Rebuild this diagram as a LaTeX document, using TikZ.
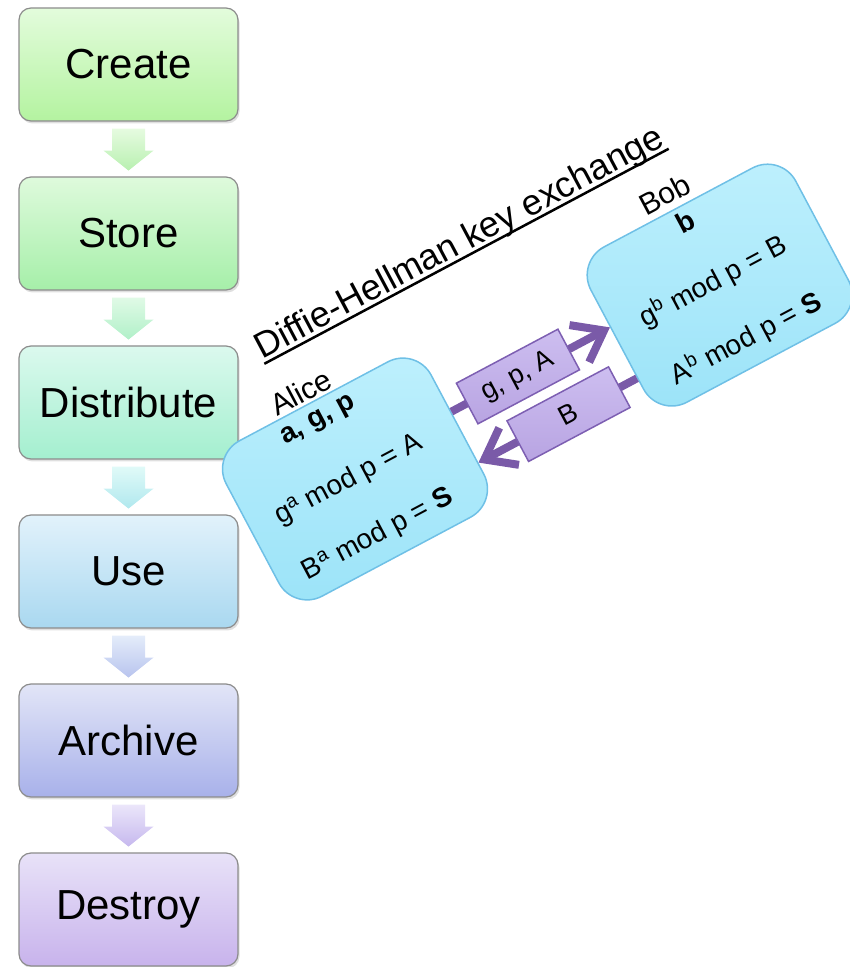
\documentclass[tikz,border=0pt]{standalone}
\usepackage{fontspec}
\setmainfont{Liberation Sans}
\usetikzlibrary{calc,arrows.meta,shadows}
\definecolor{dhtop}{HTML}{BEF0FD}
\definecolor{dhbot}{HTML}{9BE3F8}
\definecolor{dhline}{HTML}{6FC0E6}
\definecolor{msgtop}{HTML}{CDBEF0}
\definecolor{msgbot}{HTML}{B8A4E2}
\definecolor{msgline}{HTML}{7D5FB2}
\definecolor{arrcol}{HTML}{7A5AA8}
\tikzset{
  stage/.style={draw=black!45, line width=1.2pt, rounded corners=12pt,
    minimum width=219pt, minimum height=113pt,
    font=\fontsize{42}{48}\selectfont,
    drop shadow={opacity=0.25, shadow xshift=1.5pt, shadow yshift=-2.5pt}},
  dhbox/.style={draw=dhline, line width=1.5pt, rounded corners=32pt,
    top color=dhtop, bottom color=dhbot,
    minimum width=232pt, minimum height=176pt, transform shape},
  dhtext/.style={font=\fontsize{28}{32}\selectfont, inner sep=0pt, transform shape},
  dhname/.style={font=\fontsize{30}{34}\selectfont, inner sep=0pt, transform shape},
  msgbox/.style={draw=msgline, line width=1.5pt, top color=msgtop, bottom color=msgbot,
    minimum width=115pt, minimum height=46pt, inner sep=0pt,
    font=\fontsize{27}{30}\selectfont, transform shape},
  msgarrow/.style={draw=arrcol, line width=8pt,
    -{Straight Barb[length=28pt,width=42pt]}},
  titletext/.style={font=\fontsize{36}{40}\selectfont, anchor=base, inner sep=0pt,
    text depth=4.5pt, transform shape}
}
\newcommand\stagearrow[3]{%
  \shade[top color=#2, bottom color=#3]
    ($(#1.south)+(-16.5,-7)$) -- ($(#1.south)+(16.5,-7)$) --
    ($(#1.south)+(16.5,-29)$) -- ($(#1.south)+(25,-29)$) --
    ($(#1.south)+(0,-49)$) -- ($(#1.south)+(-25,-29)$) --
    ($(#1.south)+(-16.5,-29)$) -- cycle;}
\begin{document}
\begin{tikzpicture}[x=1pt,y=1pt]
\useasboundingbox (0,0) rectangle (850,967);

% lifecycle stages
\node[stage, top color={rgb,255:red,227;green,252;blue,220}, bottom color={rgb,255:red,180;green,243;blue,160}] (create) at (128.5,902.5) {Create};
\node[stage, top color={rgb,255:red,222;green,250;blue,220}, bottom color={rgb,255:red,166;green,239;blue,169}] (store) at (128.5,733.5) {Store};
\node[stage, top color={rgb,255:red,219;green,249;blue,238}, bottom color={rgb,255:red,164;green,239;blue,207}] (distribute) at (128.5,564.5) {Distribute};
\node[stage, top color={rgb,255:red,226;green,242;blue,251}, bottom color={rgb,255:red,169;green,216;blue,240}] (use) at (128.5,395.5) {Use};
\node[stage, top color={rgb,255:red,226;green,229;blue,247}, bottom color={rgb,255:red,168;green,177;blue,234}] (archive) at (128.5,226.5) {Archive};
\node[stage, top color={rgb,255:red,232;green,226;blue,248}, bottom color={rgb,255:red,200;green,179;blue,236}] (destroy) at (128.5,57.5) {Destroy};

\stagearrow{create}{{rgb,255:red,230;green,251;blue,224}}{{rgb,255:red,184;green,240;blue,176}}
\stagearrow{store}{{rgb,255:red,224;green,250;blue,230}}{{rgb,255:red,176;green,240;blue,200}}
\stagearrow{distribute}{{rgb,255:red,224;green,250;blue,248}}{{rgb,255:red,176;green,232;blue,238}}
\stagearrow{use}{{rgb,255:red,228;green,236;blue,250}}{{rgb,255:red,184;green,196;blue,238}}
\stagearrow{archive}{{rgb,255:red,235;green,230;blue,250}}{{rgb,255:red,198;green,184;blue,238}}

% Diffie-Hellman key exchange
\begin{scope}[shift={(355,488)}, rotate=28]
  \node[titletext] (title) at (203,149) {Diffie-Hellman key exchange};
  \draw[line width=2.5pt] (title.south west) -- (title.south east);

  \node[dhbox] (alice) at (0,0) {};
  \node[dhbox] (bob) at (413,0) {};

  \node[dhname] (alicename) at (-7,102) {Alice};
  \node[dhtext] (alice1) at (-5,68) {\textbf{a, g, p}};
  \node[dhtext] (alice2) at (-6,2) {g\textsuperscript{a} mod p = A};
  \node[dhtext] (alice3) at (-6,-60) {B\textsuperscript{a} mod p = \textbf{S}};

  \node[dhname] (bobname) at (407,106) {Bob};
  \node[dhtext] (bob1) at (412,72) {\textbf{b}};
  \node[dhtext] (bob2) at (409,6) {g\textsuperscript{b} mod p = B};
  \node[dhtext] (bob3) at (411,-60) {A\textsuperscript{b} mod p = \textbf{S}};

  \draw[msgarrow] ($(alice.north east)!0.42!(alice.south east)$) -- ($(bob.north west)!0.42!(bob.south west)$);
  \draw[msgarrow] ($(bob.north west)!0.745!(bob.south west)$) -- ($(alice.north east)!0.745!(alice.south east)$);

  \node[msgbox] (m1) at (192,14) {g, p, A};
  \node[msgbox] (m2) at (219,-43) {B};
\end{scope}
\end{tikzpicture}
\end{document}
